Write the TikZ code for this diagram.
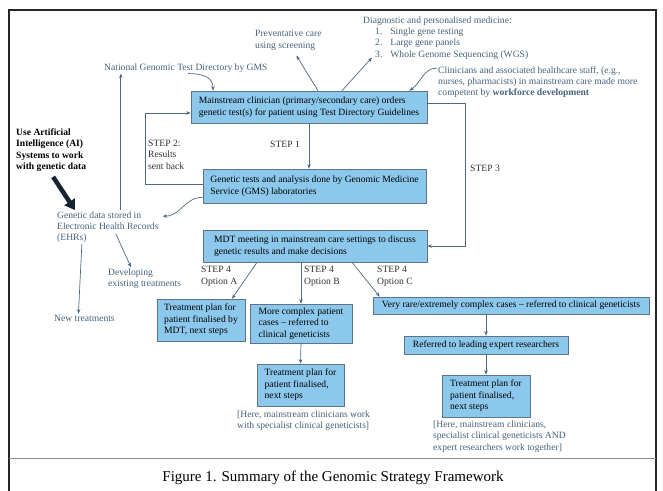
\documentclass[tikz,border=0pt]{standalone}
\usepackage{fontspec}
\setmainfont{Liberation Serif}
\usetikzlibrary{arrows.meta}
\definecolor{boxblue}{RGB}{140,200,236}
\definecolor{boxedge}{RGB}{95,115,135}
\definecolor{notetext}{RGB}{70,98,125}
\definecolor{linkcol}{RGB}{80,105,130}
\definecolor{aiarrow}{RGB}{22,36,48}

\begin{document}
\begin{tikzpicture}[x=1pt,y=-1pt,
		stepbox/.style={draw=boxedge, fill=boxblue, line width=0.6pt, align=left, inner sep=2pt, font=\fontsize{9.6}{11.5}\selectfont},
		note/.style={text=notetext, align=left, inner sep=1pt, anchor=west, font=\fontsize{9.6}{11.3}\selectfont},
		steplabel/.style={text=black!80, align=left, inner sep=1pt, anchor=west, font=\fontsize{9.6}{11.5}\selectfont},
		link/.style={draw=linkcol, line width=0.7pt, -{Stealth[length=4.5pt,width=3.5pt]}}]

				\useasboundingbox (0,0) rectangle (663,490);
				\clip (0,0) rectangle (663,490);
				\fill [white] (0,0) rectangle (663,490);
				\draw [black!85, line width=1.4pt] (9,10) rectangle (656,500);
				\draw [black!45, line width=1pt] (9,458) -- (656,458);

				\node [stepbox, minimum width=236pt, minimum height=32pt] (clin) at (309,107) {Mainstream clinician (primary/secondary care) orders\\genetic test(s) for patient using Test Directory Guidelines};
				\node [stepbox, minimum width=223pt, minimum height=34pt] (lab) at (314.5,186) {Genetic tests and analysis done by Genomic Medicine\\Service (GMS) laboratories};
				\node [stepbox, minimum width=224pt, minimum height=32pt] (mdt) at (315,246) {MDT meeting in mainstream care settings to discuss\\genetic results and make decisions};

				\node [stepbox, minimum width=88pt, minimum height=42pt] (planA) at (201,320) {Treatment plan for\\patient finalised by\\MDT, next steps};
				\node [stepbox, minimum width=102pt, minimum height=39pt] (cplx) at (301,323.5) {More complex patient\\cases -- referred to\\clinical geneticists};
				\node [stepbox, minimum width=276pt, minimum height=17pt] (rare) at (511,305.5) {Very rare/extremely complex cases -- referred to clinical geneticists};
				\node [stepbox, minimum width=164pt, minimum height=18pt] (expert) at (486,345) {Referred to leading expert researchers};
				\node [stepbox, minimum width=87pt, minimum height=42pt] (planB) at (300.5,385) {Treatment plan for\\patient finalised,\\next steps};
				\node [stepbox, minimum width=88pt, minimum height=42pt] (planC) at (486,396) {Treatment plan for\\patient finalised,\\next steps};

				\node [note] (prev) at (254,40.5) {Preventative care\\using screening};
				\node [note] (diag) at (362,38) {Diagnostic and personalised medicine:\\\hspace*{12pt}1.\hspace{8pt}Single gene testing\\\hspace*{12pt}2.\hspace{8pt}Large gene panels\\\hspace*{12pt}3.\hspace{8pt}Whole Genome Sequencing (WGS)};
				\node [note] (natl) at (103,68) {National Genomic Test Directory by GMS};
				\node [note] (staff) at (437,82) {Clinicians and associated healthcare staff, (e.g.,\\nurses, pharmacists) in mainstream care made more\\competent by \textbf{workforce development}};
				\node [note] (ehr) at (56,227) {Genetic data stored in\\Electronic Health Records\\(EHRs)};
				\node [note] (dev) at (107,278.5) {Developing\\existing treatments};
				\node [note] (newt) at (53,318) {New treatments};
				\node [note] (noteB) at (236,421) {[Here, mainstream clinicians work\\with specialist clinical geneticists]};
				\node [note] (noteC) at (432,436.5) {[Here, mainstream clinicians,\\specialist clinical geneticists AND\\expert researchers work together]};

				\node [steplabel, text=black, font=\bfseries\fontsize{9.6}{11.5}\selectfont] (ai) at (15,150) {Use Artificial\\Intelligence (AI)\\Systems to work\\with genetic data};

				\node [steplabel, anchor=east] (s1) at (301,144) {STEP 1};
				\node [steplabel] (s2) at (147,154.5) {STEP 2:\\Results\\sent back};
				\node [steplabel] (s3) at (469,168) {STEP 3};
				\node [steplabel] (s4a) at (200,276.5) {STEP 4\\Option A};
				\node [steplabel] (s4b) at (303,276.5) {STEP 4\\Option B};
				\node [steplabel] (s4c) at (376,276.5) {STEP 4\\Option C};

				\node [font=\fontsize{15}{18}\selectfont, inner sep=0pt] (cap) at (333,478) {Figure 1. Summary of the Genomic Strategy Framework};

				\draw [link] (clin.south) -- (clin.south |- lab.north);
				\draw [link] ([yshift=2pt]lab.west) -- ++(-57,0) |- ([yshift=-6pt]clin.west);
				\draw [link] ([yshift=4pt]clin.east) -- ++(38,0) |- (mdt.east);
				\draw [link] ([xshift=-58pt]mdt.south) -- ([xshift=31pt]planA.north);
				\draw [link] (cplx.north |- mdt.south) -- (cplx.north);
				\draw [link] ([xshift=37pt]mdt.south) -- ([xshift=7pt]rare.north west);
				\draw [link] (expert.north |- rare.south) -- (expert.north);
				\draw [link] (expert.south) -- (planC.north);
				\draw [link] (cplx.south) -- (planB.north);

				\draw [link] ([xshift=9pt]clin.north) -- ([xshift=8pt,yshift=-4pt]prev.south);
				\draw [link] ([xshift=33pt]clin.north) -- ([xshift=10pt,yshift=3pt]diag.south west);
				\draw [link] ([xshift=2pt]natl.south) .. controls +(18,0) and +(0,-12) .. ([xshift=-96pt]clin.north);
				\draw [link] ([yshift=-3pt]staff.north west) .. controls +(-14,0) and +(12,-8) .. ([xshift=-18pt]clin.north east);
				\draw [link] ([yshift=6pt]lab.south west) .. controls +(-18,0) and +(18,0) .. ([xshift=3pt,yshift=-6pt]ehr.north east);
				\draw [link] ([xshift=13pt]ehr.north) -- ([xshift=13pt]ehr.north |- natl.south);
				\draw [link] ([xshift=8pt,yshift=10pt]ehr.south) -- ([xshift=24pt]dev.north west);
				\draw [link] ([xshift=-26pt]ehr.south) -- ([xshift=-6pt]newt.north);
				\draw [aiarrow, line width=4.5pt, -{Triangle[length=10pt,width=12pt]}] ([xshift=2pt,yshift=-4pt]ai.south) -- ([xshift=19pt]ehr.north west);
		\end{tikzpicture}
\end{document}
